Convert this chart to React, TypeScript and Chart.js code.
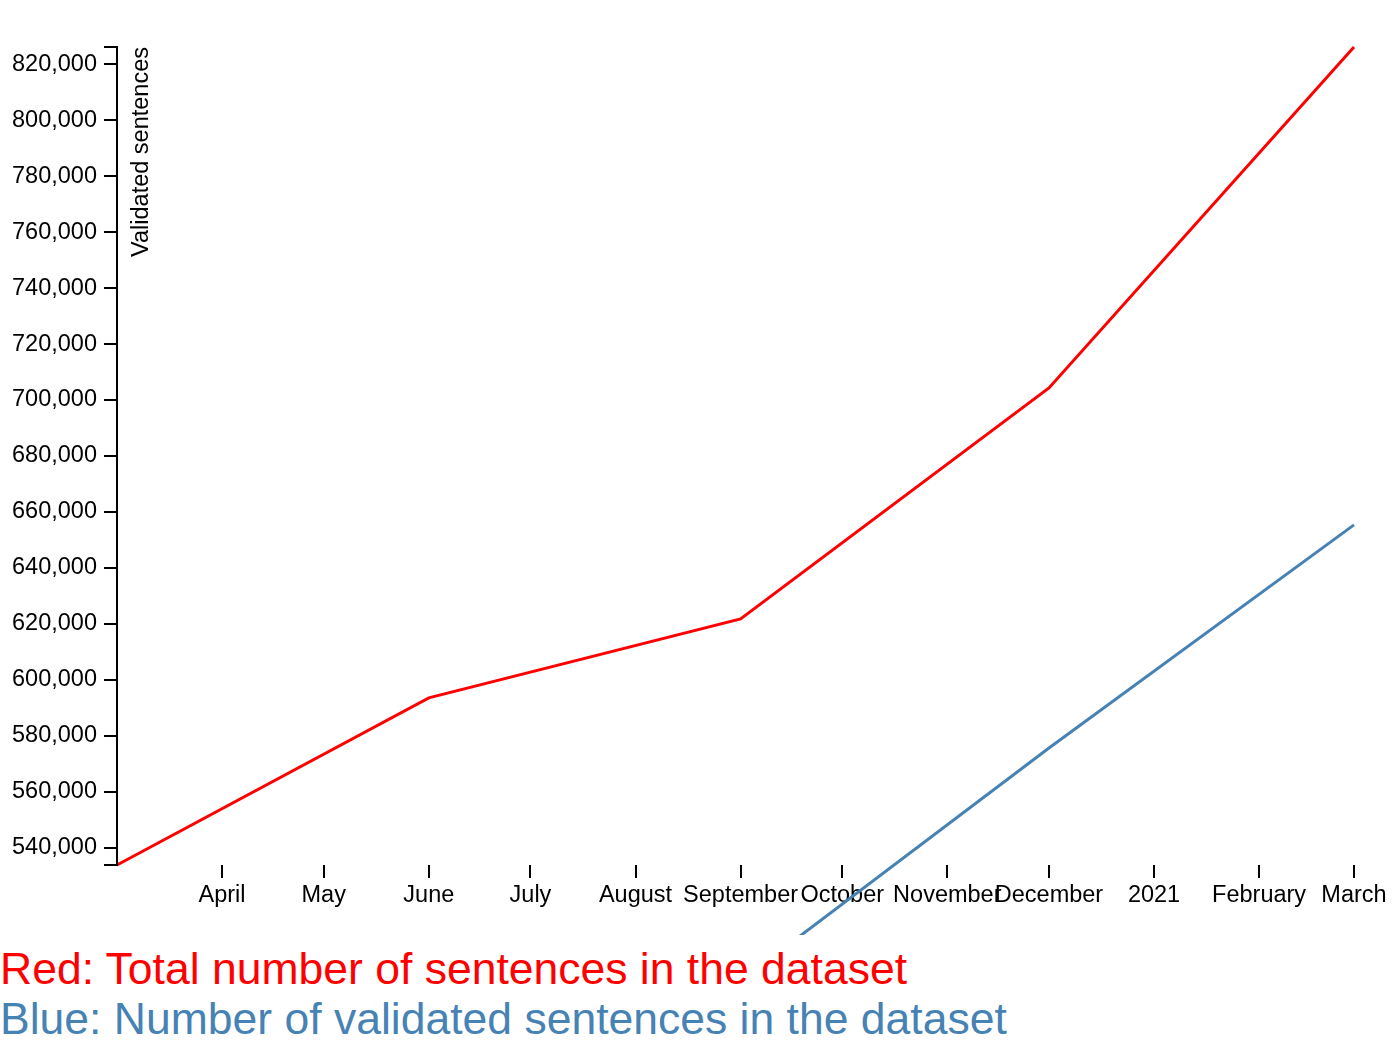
import React, { useEffect, useRef } from "react";
import { Chart, registerables } from "chart.js";

Chart.register(...registerables);

const FONT = "'Liberation Sans', Arial, sans-serif";

// days counted from 1 March 2020
const dayOffsets = [0, 92, 184, 275, 365];
const totalSentences = [533900, 593600, 621800, 704300, 826100];
const validatedSentences = [390000, 440000, 492500, 575700, 655400];

const monthTicks = [31, 61, 92, 122, 153, 184, 214, 245, 275, 306, 337, 365];
const monthLabels = [
  "April",
  "May",
  "June",
  "July",
  "August",
  "September",
  "October",
  "November",
  "December",
  "2021",
  "February",
  "March",
];

const yTicks = [
  540000, 560000, 580000, 600000, 620000, 640000, 660000, 680000, 700000,
  720000, 740000, 760000, 780000, 800000, 820000,
];

// d3 style axis path with outer ticks and the rotated y label
const axisPlugin = {
  id: "d3Axis",
  afterDraw(chart: Chart) {
    const { ctx, chartArea } = chart;
    const { left, top, bottom } = chartArea;
    ctx.save();
    ctx.strokeStyle = "#000";
    ctx.lineWidth = 2;
    ctx.beginPath();
    ctx.moveTo(left - 13, top);
    ctx.lineTo(left, top);
    ctx.lineTo(left, bottom);
    ctx.lineTo(left - 13, bottom);
    ctx.stroke();

    ctx.fillStyle = "#000";
    ctx.font = `23.5px ${FONT}`;
    ctx.translate(left + 31, top);
    ctx.rotate(-Math.PI / 2);
    ctx.textAlign = "right";
    ctx.textBaseline = "alphabetic";
    ctx.fillText("Validated sentences", 0, 0);
    ctx.restore();
  },
};

const App: React.FC = () => {
  const canvasRef = useRef<HTMLCanvasElement | null>(null);
  const chartRef = useRef<Chart | null>(null);

  useEffect(() => {
    document.body.style.margin = "0";
    if (!canvasRef.current) return;

    if (chartRef.current) {
      chartRef.current.destroy();
    }

    const ctx = canvasRef.current.getContext("2d");
    if (!ctx) return;

    chartRef.current = new Chart(ctx, {
      type: "line",
      data: {
        datasets: [
          {
            label: "Total",
            data: dayOffsets.map((d, i) => ({ x: d, y: totalSentences[i] })),
            borderColor: "#ff0000",
            borderWidth: 3,
            pointRadius: 0,
            tension: 0,
            clip: false,
          },
          {
            label: "Validated",
            data: dayOffsets.map((d, i) => ({ x: d, y: validatedSentences[i] })),
            borderColor: "#4682b4",
            borderWidth: 3,
            pointRadius: 0,
            tension: 0,
            clip: false,
          },
        ],
      },
      options: {
        animation: false,
        responsive: false,
        devicePixelRatio: 1,
        layout: { padding: { left: 0, right: 46, top: 47, bottom: 0 } },
        plugins: {
          legend: { display: false },
          tooltip: { enabled: false },
        },
        scales: {
          x: {
            type: "linear",
            min: dayOffsets[0],
            max: dayOffsets[dayOffsets.length - 1],
            afterBuildTicks: (axis) => {
              axis.ticks = monthTicks.map((v) => ({ value: v }));
            },
            afterFit: (axis) => {
              axis.height = 70;
            },
            grid: {
              drawOnChartArea: false,
              drawTicks: true,
              tickLength: 13,
              color: "#000",
              lineWidth: 2,
            },
            border: { display: false },
            ticks: {
              autoSkip: false,
              maxRotation: 0,
              minRotation: 0,
              padding: 3,
              color: "#000",
              font: { family: FONT, size: 23.5 },
              callback: (_v, index) => monthLabels[index] ?? "",
            },
          },
          y: {
            type: "linear",
            min: Math.min(...totalSentences),
            max: Math.max(...totalSentences),
            afterBuildTicks: (axis) => {
              axis.ticks = yTicks.map((v) => ({ value: v }));
            },
            afterFit: (axis) => {
              axis.width = 117;
            },
            grid: {
              drawOnChartArea: false,
              drawTicks: true,
              tickLength: 13,
              color: "#000",
              lineWidth: 2,
            },
            border: { display: false },
            ticks: {
              padding: 7,
              color: "#000",
              font: { family: FONT, size: 23.5 },
              callback: (v) => Number(v).toLocaleString("en-US"),
            },
          },
        },
      },
      plugins: [axisPlugin],
    });

    return () => {
      if (chartRef.current) {
        chartRef.current.destroy();
        chartRef.current = null;
      }
    };
  }, []);

  return (
    <div style={{ width: 1400, fontFamily: FONT }}>
      <canvas ref={canvasRef} width={1400} height={935} style={{ display: "block" }} />
      <div style={{ marginTop: 9, fontSize: 44.5, lineHeight: "50px", whiteSpace: "nowrap" }}>
        <div style={{ color: "#ff0000" }}>Red: Total number of sentences in the dataset</div>
        <div style={{ color: "#4682b4" }}>Blue: Number of validated sentences in the dataset</div>
      </div>
    </div>
  );
};

export default App;
